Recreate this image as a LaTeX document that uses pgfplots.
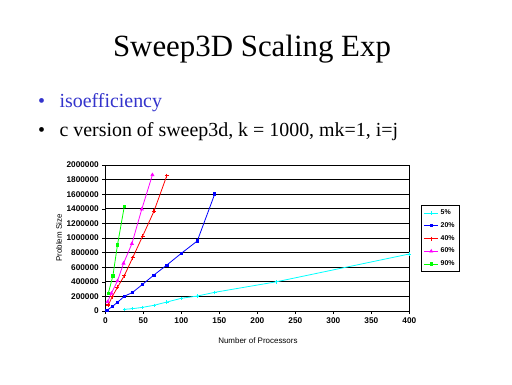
\documentclass[border=0pt]{standalone}
\usepackage{fontspec}
\setmainfont{Liberation Serif}
\newfontfamily\chartfont{Liberation Sans}
\usepackage{pgfplots}
\pgfplotsset{compat=1.18}
\definecolor{bullblue}{RGB}{51,51,204}
\definecolor{c5}{RGB}{0,255,255}
\definecolor{c20}{RGB}{0,0,255}
\definecolor{c40}{RGB}{255,0,0}
\definecolor{c60}{RGB}{255,0,255}
\definecolor{c90}{RGB}{0,255,0}
\begin{document}
\begin{tikzpicture}[x=1bp,y=1bp]
\path[use as bounding box, fill=white] (0,0) rectangle (512,384);
\node[anchor=base, inner sep=0pt, font=\fontsize{31}{37}\selectfont] at (252,328) {Sweep3D Scaling Exp};
\node[anchor=base west, inner sep=0pt, text=bullblue, font=\fontsize{20}{25}\selectfont] at (38,276.7) {\textbullet};
\node[anchor=base west, inner sep=0pt, text=bullblue, font=\fontsize{20}{25}\selectfont] at (59.3,276.7) {isoefficiency};
\node[anchor=base west, inner sep=0pt, font=\fontsize{20}{25}\selectfont] at (38,247.3) {\textbullet};
\node[anchor=base west, inner sep=0pt, font=\fontsize{20}{25}\selectfont] at (59.3,247.3) {c version of sweep3d, k = 1000, mk=1, i=j};
\begin{axis}[
  at={(105.3bp,73bp)}, anchor=south west,
  scale only axis, width=304bp, height=146bp,
  xmin=0, xmax=400, ymin=0, ymax=2000000,
  xtick={0,50,100,150,200,250,300,350,400},
  ytick={0,200000,400000,600000,800000,1000000,1200000,1400000,1600000,1800000,2000000},
  ymajorgrids, major grid style={black, line width=0.9pt},
  axis line style={black, line width=0.7pt},
  tick align=outside, xtick pos=bottom, ytick pos=left,
  major tick length=3bp, tick style={black, line width=0.6pt},
  scaled y ticks=false, scaled x ticks=false,
  /pgf/number format/assume math mode=true,
  yticklabel style={/pgf/number format/fixed, /pgf/number format/1000 sep={}},
  tick label style={font=\chartfont\bfseries\fontsize{8.3}{9}\selectfont},
  xlabel={Number of Processors}, ylabel={Problem Size},
  label style={font=\chartfont\fontsize{8}{10}\selectfont},
  xlabel style={at={(axis description cs:0.502,-0.205)}, anchor=center},
  ylabel style={at={(axis description cs:-0.152,0.5)}, anchor=center},
  legend style={at={(axis description cs:1.0385,0.726)}, anchor=north west,
    draw=black, line width=0.7pt, font=\chartfont\bfseries\fontsize{7}{8}\selectfont,
    row sep=2.4bp, inner sep=2.5bp},
  legend cell align=left,
  legend image code/.code={\draw[mark repeat=2,mark phase=2] plot coordinates {(0bp,0bp) (7bp,0bp) (14bp,0bp)};},
]
\addplot[c5, line width=0.8pt, mark=+, mark size=1.8bp] coordinates {
 (25,23000) (36,32000) (49,50000) (64,78000) (81,123000) (100,174000) (121,205000) (144,256000) (225,400000) (400,781000)};
\addlegendentry{5\%}
\addplot[c20, line width=0.8pt, mark=square*, mark size=1.1bp] coordinates {
 (2,9000) (9,59000) (16,119000) (25,201000) (36,256000) (49,365000) (64,493000) (81,630000) (100,790000) (121,959000) (144,1603000)};
\addlegendentry{20\%}
\addplot[c40, line width=0.8pt, mark=+, mark size=2bp, mark options={line width=1.2pt}] coordinates {
 (4,82000) (9,196000) (16,324000) (25,484000) (36,730000) (49,1023000) (64,1366000) (81,1856000)};
\addlegendentry{40\%}
\addplot[c60, line width=0.8pt, mark=triangle*, mark size=1.6bp] coordinates {
 (3,125000) (8,242000) (16,411000) (24,653000) (35,922000) (48,1395000) (62,1865000)};
\addlegendentry{60\%}
\addplot[c90, line width=0.8pt, mark=square*, mark size=1.2bp] coordinates {
 (4,245000) (10,482000) (16,904000) (25,1432000)};
\addlegendentry{90\%}
\end{axis}
\end{tikzpicture}
\end{document}
